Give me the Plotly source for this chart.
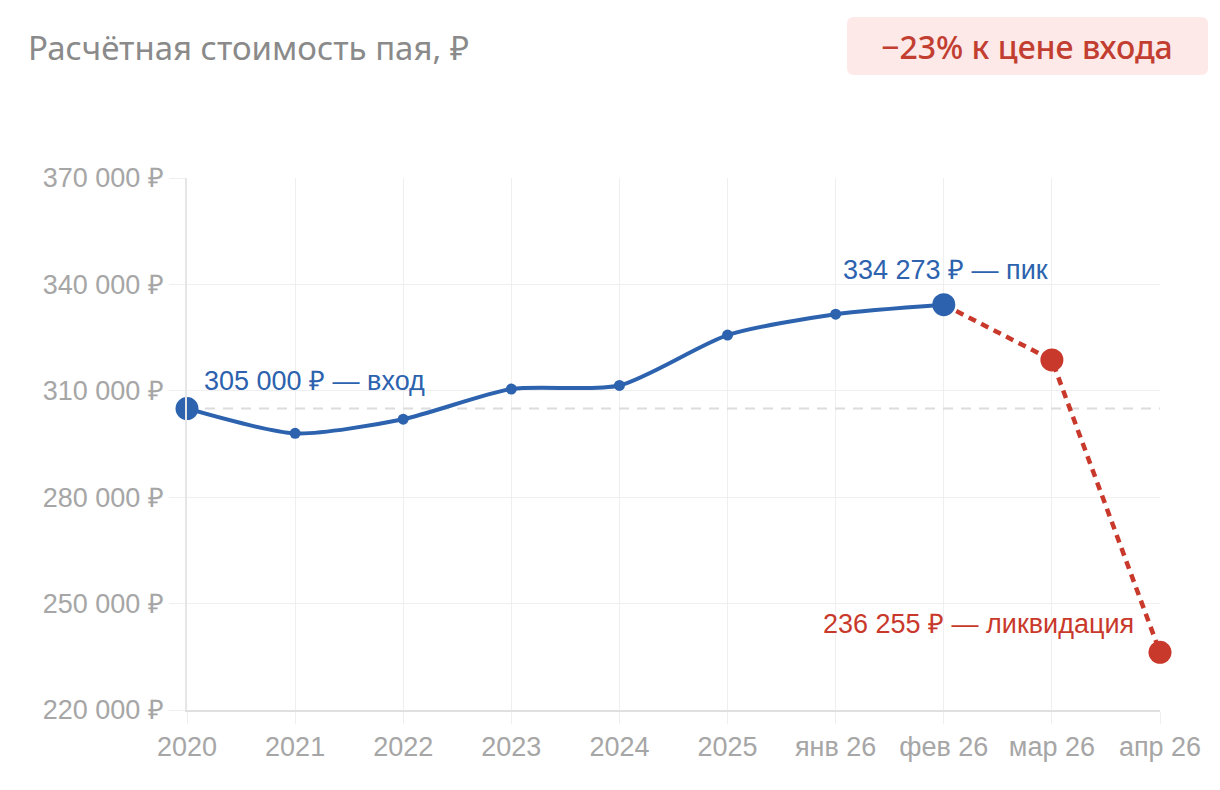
import plotly.graph_objects as go

categories = ["2020", "2021", "2022", "2023", "2024", "2025", "янв 26", "фев 26", "мар 26", "апр 26"]
values = [305000, 298000, 302000, 310500, 311500, 325700, 331600, 334273, 318700, 236255]
entry_value = 305000
y_ticks = [220000, 250000, 280000, 310000, 340000, 370000]
y_tick_labels = ["220 000 ₽", "250 000 ₽", "280 000 ₽", "310 000 ₽", "340 000 ₽", "370 000 ₽"]
split = 7  # index of the peak, where history ends and the forecast starts

BLUE = "#2c62ae"
RED = "#c9392b"
GRID = "#efefef"
TICK_FONT = dict(family="Liberation Sans, Arial, sans-serif", size=27, color="#a6a6a6")

OFF = 8  # page body margin
W, H = 1212, 782
ML, MR, MT, MB = 179, 60, 170, 80
PW, PH = W - ML - MR, H - MT - MB

def px_x(x):
    return (x - OFF - ML) / PW

def px_y(y):
    return (H - MB - (y - OFF)) / PH

fig = go.Figure()

# entry reference line
fig.add_trace(go.Scatter(
    x=categories, y=[entry_value] * len(categories), mode="lines",
    line=dict(color="#dcdcdc", width=2, dash="10px,8px"),
    hoverinfo="skip", showlegend=False,
))

# history line
hist_x = categories[:split + 1]
hist_y = values[:split + 1]
fig.add_trace(go.Scatter(
    x=hist_x, y=hist_y, mode="lines+markers",
    line=dict(color=BLUE, width=4, shape="spline", smoothing=0.7),
    marker=dict(color=BLUE, size=11),
    cliponaxis=False, showlegend=False,
))

# liquidation forecast
fc_x = categories[split:]
fc_y = values[split:]
fig.add_trace(go.Scatter(
    x=fc_x, y=fc_y, mode="lines",
    line=dict(color=RED, width=4.5, dash="8px,6px"),
    cliponaxis=False, showlegend=False,
))

# key points
key_idx = [0, split, split + 1, len(categories) - 1]
fig.add_trace(go.Scatter(
    x=[categories[i] for i in key_idx], y=[values[i] for i in key_idx], mode="markers",
    marker=dict(color=[BLUE if i <= split else RED for i in key_idx], size=23,
                line=dict(width=0), opacity=1),
    cliponaxis=False, showlegend=False,
))

def fmt(v):
    return f"{v:,}".replace(",", " ") + " ₽"

ann_font = dict(family="Liberation Sans, Arial, sans-serif", size=27)
fig.add_annotation(x=0, y=values[0], text=fmt(values[0]) + " — вход",
                   showarrow=False, xanchor="left", yanchor="middle", xshift=15, yshift=28,
                   font=dict(color=BLUE, **ann_font))
fig.add_annotation(x=split, y=values[split], text=fmt(values[split]) + " — пик",
                   showarrow=False, xanchor="center", yanchor="middle", xshift=2, yshift=35,
                   font=dict(color=BLUE, **ann_font))
fig.add_annotation(x=len(categories) - 1, y=values[-1], text=fmt(values[-1]) + " — ликвидация",
                   showarrow=False, xanchor="right", yanchor="middle", xshift=-24, yshift=28,
                   font=dict(color=RED, **ann_font))

# badge (rounded rectangle)
def rounded_rect(x0, y0, x1, y1, r):
    # pixel coords (top-left origin) -> paper path
    pts = []
    X = px_x
    Y = px_y
    return (f"M {X(x0 + r)},{Y(y0)} L {X(x1 - r)},{Y(y0)} Q {X(x1)},{Y(y0)} {X(x1)},{Y(y0 + r)} "
            f"L {X(x1)},{Y(y1 - r)} Q {X(x1)},{Y(y1)} {X(x1 - r)},{Y(y1)} "
            f"L {X(x0 + r)},{Y(y1)} Q {X(x0)},{Y(y1)} {X(x0)},{Y(y1 - r)} "
            f"L {X(x0)},{Y(y0 + r)} Q {X(x0)},{Y(y0)} {X(x0 + r)},{Y(y0)} Z")

drop = round((values[-1] / entry_value - 1) * 100)
fig.add_shape(type="path", xref="paper", yref="paper",
              path=rounded_rect(847, 17, 1208, 75, 7),
              fillcolor="#fde9e8", line=dict(width=0), layer="below")
fig.add_annotation(xref="paper", yref="paper", x=px_x(1027), y=px_y(47),
                   text=f"−{abs(drop)}% к цене входа", showarrow=False,
                   xanchor="center", yanchor="middle",
                   font=dict(family="Noto Sans, sans-serif", size=32, color="#c23e31", weight=500))

fig.update_layout(
    width=W, height=H,
    margin=dict(l=ML, r=MR, t=MT, b=MB),
    paper_bgcolor="white", plot_bgcolor="white",
    title=dict(text="Расчётная стоимость пая, ₽", xref="container", yref="container",
               x=(28 - OFF) / W, xanchor="left", y=1 - (48 - OFF) / H, yanchor="middle",
               font=dict(family="Noto Sans, sans-serif", size=33, color="#8a8a8a")),
    xaxis=dict(
        type="category", categoryorder="array", categoryarray=categories,
        range=[0, len(categories) - 1],
        showgrid=True, gridcolor=GRID, gridwidth=1,
        ticks="outside", ticklen=12, tickcolor=GRID,
        showline=True, linecolor="#e0e0e0", linewidth=1.5,
        tickfont=TICK_FONT, zeroline=False,
    ),
    yaxis=dict(
        range=[y_ticks[0], y_ticks[-1]], tickvals=y_ticks, ticktext=y_tick_labels,
        showgrid=True, gridcolor=GRID, gridwidth=1,
        ticks="outside", ticklen=16, tickcolor=GRID,
        showline=True, linecolor="#e6e6e6", linewidth=1.5,
        tickfont=TICK_FONT, zeroline=False,
    ),
    hovermode=False,
)

fig.write_html("out.html")
